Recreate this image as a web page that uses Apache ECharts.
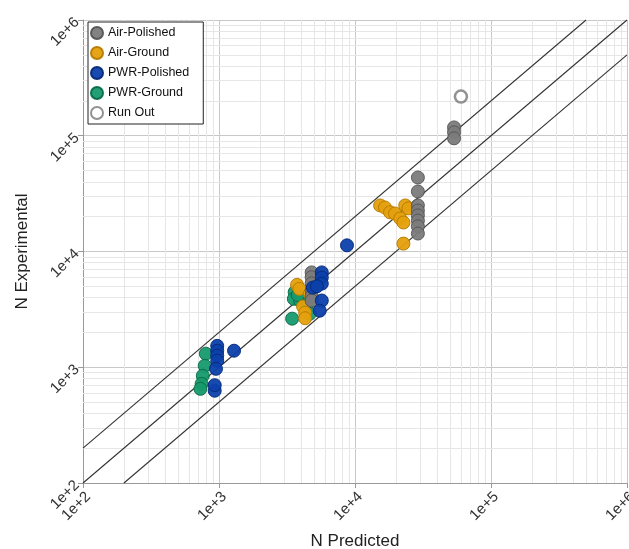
<!DOCTYPE html>
<html><head><meta charset="utf-8">
<script src="https://cdn.jsdelivr.net/npm/echarts@6/dist/echarts.min.js"></script>
<style>html,body{margin:0;padding:0;background:#fff}#c{width:629px;height:549px}</style>
</head><body><div id="c"></div>
<script>
var seriesNames = ['Air-Polished','Air-Ground','PWR-Polished','PWR-Ground','Run Out'];
var airPolished = [[53500,118000],[53500,107000],[53500,95000],[29000,43600],[29000,33000],[29000,25000],[29000,22600],[29000,20500],[29000,18500],[29000,16500],[29000,14300],[4800,6600],[4800,6000],[4800,5300],[4800,4600],[4800,4100],[4800,3770]];
var airGround = [[15300,25000],[16600,24000],[18100,21800],[19700,21300],[21500,19300],[23400,25000],[24700,23600],[22700,17800],[22700,11700],[3750,5150],[3900,4750],[4150,3350],[4300,2960],[4300,2650],[4650,4300]];
var pwrPolished = [[8730,11300],[970,1530],[970,1390],[970,1260],[970,1140],[950,970],[930,627],[930,700],[1290,1390],[5700,6600],[5700,5960],[5700,5280],[4900,4880],[5700,3770],[5500,3080],[5250,5000]];
var pwrGround = [[800,1310],[785,1030],[760,844],[745,719],[730,651],[3450,2630],[3600,4450],[3550,3900],[3950,3770],[4500,3550],[4650,2900],[4850,4790],[3800,4200]];
var runOut = [[60100,218000]];
var lineFactors = [2, 1, 0.5];
var axisMin = 100, axisMax = 1000000;
var minorValues = [];
for (var d = 100; d < axisMax; d *= 10) for (var k = 2; k <= 9; k++) minorValues.push(d * k);

var colors = {gray:'#7b7b7b', orange:'#e5a00d', blue:'#0c40ab', green:'#169a6d'};
var borders = {gray:'#555', orange:'#b57b00', blue:'#062a78', green:'#0b6a48'};

function fmt(v){ return '1e+' + Math.round(Math.log10(v)); }
var chart = echarts.init(document.getElementById('c'), null, {renderer:'canvas'});
var series = [];
series.push({type:'line', silent:true, symbol:'none', data:[], animation:false, z:1,
  markLine:{silent:true, z:1, symbol:'none', label:{show:false}, animation:false,
    lineStyle:{color:'#e6e6e6', width:1, type:'solid'},
    data: minorValues.map(function(v){return {xAxis:v};}).concat(minorValues.map(function(v){return {yAxis:v};}))}});
series.push({type:'line', silent:true, symbol:'none', data:[], animation:false, z:3,
  markLine:{silent:true, z:3, symbol:'none', label:{show:false}, animation:false,
    lineStyle:{color:'#333', width:1.1, type:'solid', opacity:1},
    data: lineFactors.map(function(f){
      var x0 = f >= 1 ? axisMin : axisMin / f, x1 = f >= 1 ? axisMax / f : axisMax;
      return [{coord:[x0, x0 * f]}, {coord:[x1, x1 * f]}];
    })}});
function sc(name, data, c, z){
  return {name:name, type:'scatter', data:data, symbolSize:13, z:z, animation:false,
    itemStyle:{color:colors[c], borderColor:borders[c], borderWidth:1, opacity:0.95}};
}
series.push(sc('PWR-Ground', pwrGround, 'green', 4));
series.push(sc('Air-Ground', airGround, 'orange', 5));
series.push(sc('Air-Polished', airPolished, 'gray', 6));
series.push(sc('PWR-Polished', pwrPolished, 'blue', 7));
series.push({name:'Run Out', type:'scatter', data:runOut, symbolSize:12, z:8, animation:false,
  itemStyle:{color:'#fff', borderColor:'#777', borderWidth:2.5}});

chart.setOption({
  animation:false,
  backgroundColor:'#fff',
  grid:{left:83, right:2, top:20, bottom:66, outerBoundsMode:'none', containLabel:false},
  legend:{orient:'vertical', left:88, top:22, z:20,
    data:seriesNames.map(function(n){return {name:n, icon:'circle'};}),
    itemWidth:12, itemHeight:12, itemGap:6, padding:[4,14,4,2],
    borderColor:'#222', borderWidth:1, backgroundColor:'#fff',
    textStyle:{fontFamily:'Liberation Sans', fontSize:12.5, lineHeight:13, color:'#111'}},
  xAxis:{type:'log', logBase:10, min:axisMin, max:axisMax,
    name:'N Predicted', nameLocation:'middle', nameGap:50,
    nameTextStyle:{fontFamily:'Liberation Sans', fontSize:17, color:'#222'},
    axisLine:{lineStyle:{color:'#999'}}, axisTick:{show:true, lineStyle:{color:'#999'}},
    axisLabel:{rotate:45, formatter:fmt, fontFamily:'Liberation Sans', fontSize:15, color:'#333', margin:6, verticalAlign:'top'},
    splitLine:{show:true, lineStyle:{color:'#c8c8c8'}}},
  yAxis:{type:'log', logBase:10, min:axisMin, max:axisMax,
    name:'N Experimental', nameLocation:'middle', nameGap:52,
    nameTextStyle:{fontFamily:'Liberation Sans', fontSize:17, color:'#222'},
    axisLine:{show:true, lineStyle:{color:'#999'}}, axisTick:{show:true, lineStyle:{color:'#999'}},
    axisLabel:{rotate:45, formatter:fmt, fontFamily:'Liberation Sans', fontSize:15, color:'#333', margin:6},
    splitLine:{show:true, lineStyle:{color:'#c8c8c8'}}},
  series:series
});
</script></body></html>
